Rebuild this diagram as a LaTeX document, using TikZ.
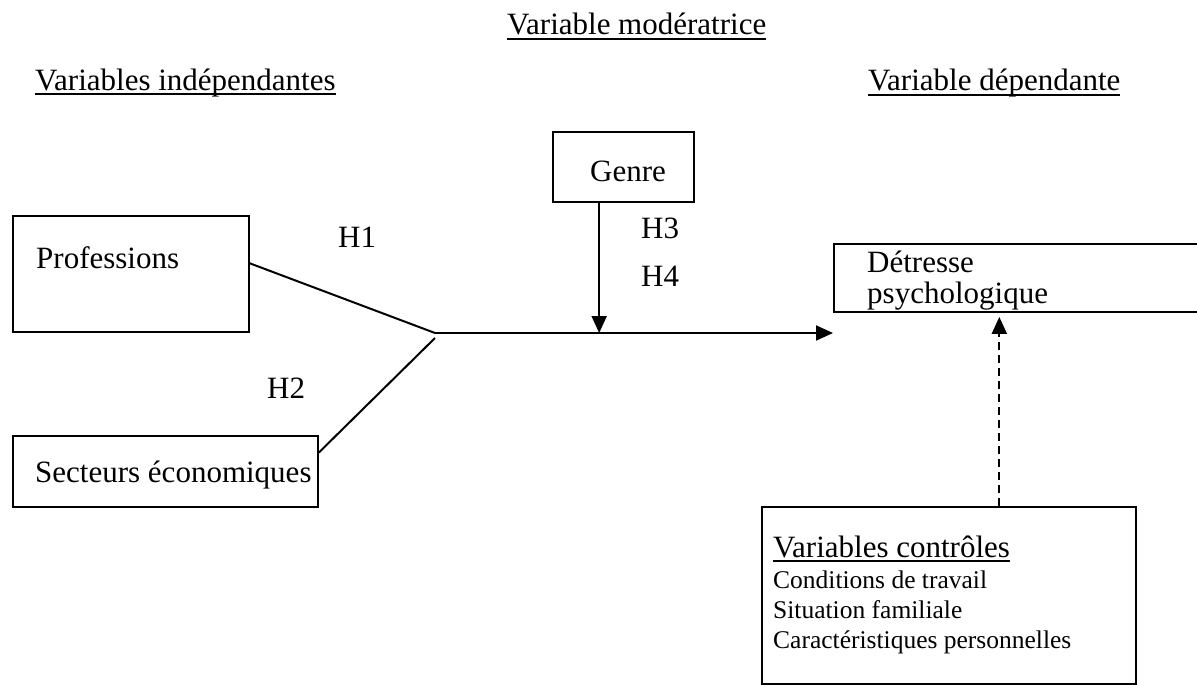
\documentclass[tikz,border=0pt]{standalone}
\usepackage{fontspec}
\setmainfont{Liberation Serif}
\usetikzlibrary{arrows.meta,calc}
\newcommand{\myul}[1]{\setbox0\hbox{#1}\rlap{\rule[-0.17em]{\wd0}{0.07em}}\box0}
\begin{document}
\begin{tikzpicture}[x=1pt,y=-1pt,
  box/.style={draw,line width=1.9pt,inner sep=0pt,anchor=north west},
  lbl/.style={anchor=base west,inner sep=0pt,font=\fontsize{31}{37}\selectfont},
  sml/.style={anchor=base west,inner sep=0pt,font=\fontsize{25.5}{30}\selectfont},
  conn/.style={line width=2pt},
  tip/.style={-{Triangle[length=17pt,width=15pt]}}]
\useasboundingbox (0,0) rectangle (1197,685);
\clip (0,0) rectangle (1197,685);

% boxes
\node[box,minimum width=141pt,minimum height=70pt] (genre) at (552,131) {};
\node[box,minimum width=236pt,minimum height=116pt] (prof) at (12,215) {};
\node[box,minimum width=305pt,minimum height=71pt] (sect) at (12,435) {};
\node[box,minimum width=380pt,minimum height=68pt] (det) at (833,243) {};
\node[box,minimum width=374pt,minimum height=177pt] (ctrl) at (761,506) {};

% headings
\node[lbl] (tmod) at (507,35) {\myul{Variable modératrice}};
\node[lbl] (tind) at (35,90) {\myul{Variables indépendantes}};
\node[lbl] (tdep) at (868,91) {\myul{Variable dépendante}};

% box texts
\node[lbl] (tgenre) at (590,181) {Genre};
\node[lbl] (tprof) at (36,268) {Professions};
\node[lbl] (tsect) at (35,482) {Secteurs économiques};
\node[lbl] (tdet1) at (867,272) {Détresse};
\node[lbl] (tdet2) at (867,303) {psychologique};
\node[lbl] (tctrl) at (773,557) {\myul{Variables contrôles}};
\node[sml] (c1) at (773,588) {Conditions de travail};
\node[sml] (c2) at (773,618) {Situation familiale};
\node[sml] (c3) at (773,648) {Caractéristiques personnelles};

% hypotheses
\node[lbl] (h1) at (338,247) {H1};
\node[lbl] (h2) at (267,398) {H2};
\node[lbl] (h3) at (641,238) {H3};
\node[lbl] (h4) at (641,286) {H4};

% connectors
\coordinate (j1) at (435,333);
\coordinate (j2) at (435,338);
\draw[conn] ($(prof.north east)!0.41!(prof.south east)$) -- (j1);
\draw[conn] ($(sect.north east)!0.24!(sect.south east)$) -- (j2);
\draw[conn,tip] (j1) -- (j1 -| det.west);
\coordinate (gs) at ($(genre.south west)!0.33!(genre.south east)$);
\draw[conn,tip] (gs) -- (gs |- j1);
\coordinate (cs) at ($(ctrl.north west)!0.634!(ctrl.north east)$);
\coordinate (ce) at ($(cs |- det.south)+(0,4)$);
\draw[conn,tip,dash pattern=on 8pt off 5pt] (cs) -- (ce);
\end{tikzpicture}
\end{document}
